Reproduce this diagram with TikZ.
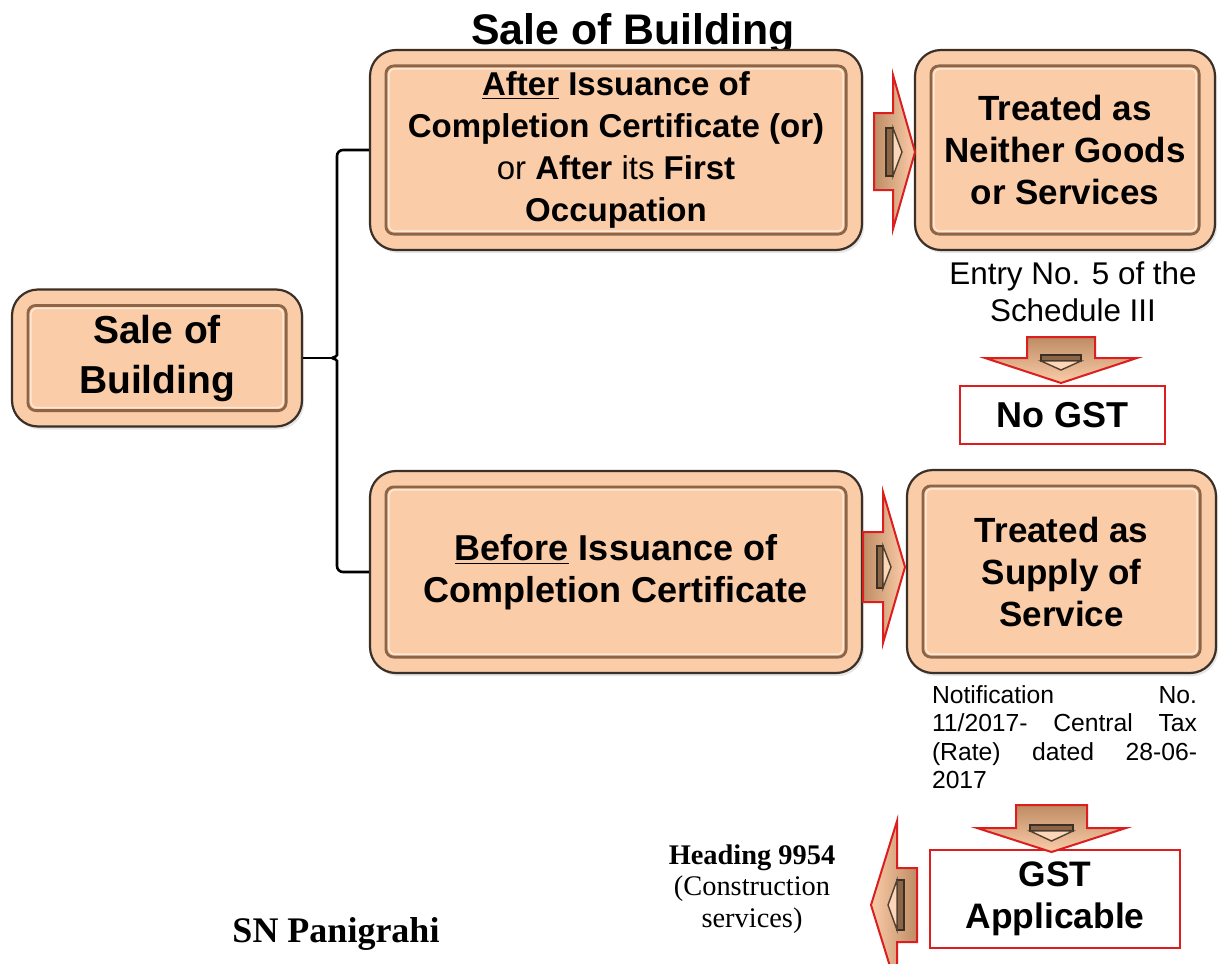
\documentclass[tikz,border=0pt]{standalone}
\usepackage{fontspec}
\setmainfont{Liberation Sans}
\newfontfamily\serifface{Liberation Serif}
\usetikzlibrary{calc,shadows}
\definecolor{peach}{RGB}{250,204,168}
\definecolor{rimline}{RGB}{58,48,40}
\definecolor{bevelbrown}{RGB}{140,100,70}
\definecolor{arrowred}{RGB}{220,30,30}
\definecolor{tanshade}{RGB}{190,140,100}
\newcommand{\spreadline}[1]{\leavevmode\hbox to \linewidth{#1}}

\begin{document}
\begin{tikzpicture}[x=0.5pt,y=-0.5pt,
  panel/.style={draw=rimline, line width=1.1pt, fill=peach, rounded corners=13pt,
    inner sep=0pt, align=center,
    drop shadow={opacity=0.2, shadow xshift=1pt, shadow yshift=-1.5pt}},
  bevel/.style={draw=bevelbrown, line width=1.4pt, rounded corners=4pt},
  glow/.style={draw=white, opacity=0.55, line width=0.7pt, rounded corners=3pt},
  redbox/.style={draw=arrowred, line width=1.4pt, fill=white, inner sep=0pt, align=center},
  blockarrow/.style={draw=arrowred, line width=1pt, line join=miter},
  arrowbar/.style={draw=rimline, line width=0.6pt, fill=bevelbrown},
  arrowtri/.style={draw=rimline!70!bevelbrown, line width=0.7pt, fill=peach!80!white},
  link/.style={draw=black, line width=1.3pt, rounded corners=3pt},
]
\useasboundingbox (0,0) rectangle (1224,963);
\clip (0,0) rectangle (1224,963);

% heading and credit
\node[anchor=base, inner sep=0pt, font=\fontsize{21.4pt}{24pt}\selectfont\bfseries] (title) at (633,45) {Sale of Building};
\node[anchor=base, inner sep=0pt, font=\serifface\fontsize{18pt}{20pt}\selectfont\bfseries] (author) at (336,942) {SN Panigrahi};

% main panels
\node[panel, minimum width=145pt, minimum height=68.5pt,
  font=\fontsize{19.5pt}{25pt}\selectfont\bfseries] (sb) at (157,358) {Sale of\\Building};
\node[panel, minimum width=246pt, minimum height=100pt,
  font=\fontsize{16.5pt}{21pt}\selectfont\bfseries] (tm) at (616,150)
  {\underline{After} Issuance of\\Completion Certificate (or)\\{\mdseries or} After {\mdseries its} First\\Occupation};
\node[panel, minimum width=150pt, minimum height=100pt,
  font=\fontsize{17.5pt}{21pt}\selectfont\bfseries] (tr) at (1065,150) {Treated as\\Neither Goods\\or Services};
\node[panel, minimum width=246pt, minimum height=101pt,
  font=\fontsize{18pt}{21pt}\selectfont\bfseries] (bm) at (616,572)
  {\underline{Before} Issuance of\\Completion Certificate};
\node[panel, minimum width=154.5pt, minimum height=101.5pt,
  font=\fontsize{17.5pt}{21pt}\selectfont\bfseries] (br) at (1061.5,571.5) {Treated as\\Supply of\\Service};

% recessed inner frames
\foreach \n in {sb,tm,tr,bm,br}{
  \draw[bevel] ([shift={(17,17)}]\n.north west) rectangle ([shift={(-17,-17)}]\n.south east);
  \draw[glow] ([shift={(20,20)}]\n.north west) rectangle ([shift={(-20,-20)}]\n.south east);
}

% outcome boxes
\node[redbox, minimum width=102.5pt, minimum height=29pt,
  font=\fontsize{18pt}{21pt}\selectfont\bfseries] (nogst) at (1062.5,415) {No GST};
\node[redbox, minimum width=125pt, minimum height=49pt,
  font=\fontsize{17.7pt}{21pt}\selectfont\bfseries] (gst) at (1055,899) {GST\\Applicable};

% legal references
\node[align=center, inner sep=0pt, font=\fontsize{15.7pt}{18.5pt}\selectfont] (entry) at (1073,292)
  {Entry No. 5 of the\\Schedule III};
\node[text width=132.5pt, align=left, inner sep=0pt, font=\fontsize{12.35pt}{14.2pt}\selectfont] (notif) at (1064.5,737)
  {\spreadline{Notification\hfill No.}\\
   \spreadline{11/2017-\hfill Central\hfill Tax}\\
   \spreadline{(Rate)\hfill dated\hfill 28-06-}\\
   2017};
\node[align=center, inner sep=0pt, font=\serifface\fontsize{14.2pt}{15.75pt}\selectfont] (heading) at (752,889)
  {\textbf{Heading 9954}\\(Construction\\services)};

% bracket from the root panel to the two cases
\coordinate (cusp) at (332,358);
\coordinate (spine) at (337,358);
\draw[link] (sb.east) -- (cusp);
\draw[link] (tm.west) -- (tm.west -| spine) -- (337,349) .. controls (337,355) and (335,358) .. (cusp);
\draw[link] (bm.west) -- (bm.west -| spine) -- (337,367) .. controls (337,361) and (335,358) .. (cusp);

% block arrow: upper case to its treatment
\draw[blockarrow, left color=tanshade, right color=peach]
  (874,113) -- (893,113) -- (893,75) -- (915,152) -- (893,229) -- (893,190) -- (874,190) -- cycle;
\draw[arrowbar] (886,128) rectangle (893,176);
\draw[arrowtri] (893,128) -- (902,152) -- (893,176) -- cycle;

% block arrow: lower case to its treatment
\draw[blockarrow, left color=tanshade, right color=peach]
  (863,532) -- (883,532) -- (883,492) -- (905,567) -- (883,643) -- (883,602) -- (863,602) -- cycle;
\draw[arrowbar] (877,546) rectangle (883,588);
\draw[arrowtri] (883,546) -- (891,567) -- (883,588) -- cycle;

% block arrow: down to No GST
\draw[blockarrow, top color=tanshade, bottom color=peach]
  (1027,337) -- (1095,337) -- (1095,358) -- (1137,358) -- (1061,383) -- (985,358) -- (1027,358) -- cycle;
\draw[arrowbar] (1041,355) rectangle (1081,361);
\draw[arrowtri] (1041,361) -- (1061,370) -- (1081,361) -- cycle;

% block arrow: down to GST Applicable
\draw[blockarrow, top color=tanshade, bottom color=peach]
  (1016,805) -- (1087,805) -- (1087,828) -- (1126,828) -- (1051.5,852) -- (977,828) -- (1016,828) -- cycle;
\draw[arrowbar] (1030,825) rectangle (1073,831);
\draw[arrowtri] (1030,831) -- (1051.5,841) -- (1073,831) -- cycle;

% block arrow: left to the service heading
\draw[blockarrow, left color=peach, right color=tanshade]
  (917,868) -- (897,868) -- (897,821) -- (871,905) -- (897,989) -- (897,942) -- (917,942) -- cycle;
\draw[arrowbar] (897,880) rectangle (904,930);
\draw[arrowtri] (897,880) -- (888,905) -- (897,930) -- cycle;
\end{tikzpicture}
\end{document}
